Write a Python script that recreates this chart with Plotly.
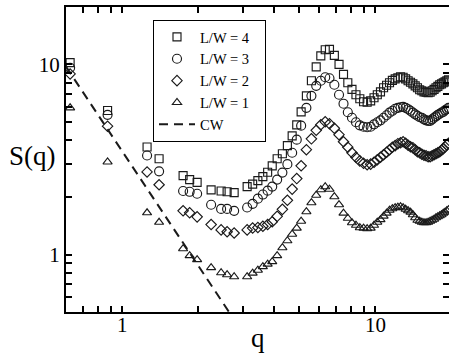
import math
import plotly.graph_objects as go

# shared wave-vector values
q_values = [0.623, 0.876, 1.255, 1.40, 1.742, 1.849, 1.979, 2.248, 2.462, 2.60, 2.772,
            3.12, 3.28, 3.44, 3.60, 3.76, 3.92, 4.10, 4.30, 4.50, 4.70, 4.90, 5.10, 5.35,
            5.60, 5.85, 6.10, 6.35, 6.60,
            6.9, 7.2, 7.5, 7.8, 8.1, 8.4, 8.7, 9.0, 9.3, 9.6, 9.9, 10.2, 10.5, 10.8, 11.1,
            11.4, 11.7, 12.0, 12.3, 12.6, 12.9, 13.2, 13.5, 13.8, 14.1, 14.4, 14.7, 15.0,
            15.3, 15.6, 15.9, 16.2, 16.5, 16.8, 17.1, 17.4, 17.7, 18.0, 18.3, 18.6, 18.9,
            19.2, 19.5]

s_lw4 = [10.2, 5.72, 3.68, 3.19, 2.60, 2.48, 2.40, 2.19, 2.16, 2.14, 2.12,
         2.28, 2.35, 2.45, 2.57, 2.71, 2.93, 3.19, 3.39, 3.74, 4.21, 4.81, 5.63, 6.83,
         8.20, 9.70, 11.08, 11.92, 11.99,
         11.15, 10.0, 8.86, 8.00, 7.39, 6.92, 6.59, 6.36, 6.32, 6.43, 6.67, 6.92, 7.17,
         7.53, 7.76, 8.00, 8.24, 8.39, 8.50, 8.60, 8.55, 8.39, 8.20, 8.05, 7.90, 7.71,
         7.53, 7.35, 7.26, 7.17, 7.13, 7.09, 7.13, 7.26, 7.39, 7.53, 7.66, 7.81, 7.90,
         8.00, 8.09, 8.20, 8.29]

s_lw3 = [9.58, 5.43, 3.32, 2.74, 2.16, 2.14, 2.09, 1.83, 1.74, 1.74, 1.70,
         1.77, 1.85, 1.97, 2.07, 2.17, 2.28, 2.48, 2.70, 2.99, 3.43, 4.02, 4.76, 5.91,
         6.83, 7.71, 8.20, 8.55, 8.45,
         7.81, 6.92, 6.21, 5.60, 5.24, 4.96, 4.78, 4.70, 4.67, 4.70, 4.84, 4.96, 5.08,
         5.24, 5.40, 5.57, 5.70, 5.84, 5.91, 5.95, 5.98, 5.91, 5.81, 5.70, 5.57, 5.46,
         5.37, 5.27, 5.24, 5.14, 5.08, 5.05, 5.05, 5.14, 5.24, 5.33, 5.43, 5.50, 5.57,
         5.63, 5.74, 5.81, 5.91]

s_lw2 = [8.90, 4.73, 2.72, 2.33, 1.70, 1.66, 1.58, 1.44, 1.35, 1.32, 1.30,
         1.35, 1.38, 1.39, 1.41, 1.44, 1.49, 1.59, 1.73, 1.93, 2.21, 2.51, 2.93, 3.56,
         4.06, 4.50, 4.81, 4.99, 4.87,
         4.61, 4.27, 3.92, 3.67, 3.43, 3.25, 3.11, 3.02, 2.97, 2.99, 3.06, 3.15, 3.25,
         3.35, 3.45, 3.56, 3.67, 3.74, 3.83, 3.87, 3.92, 3.85, 3.76, 3.69, 3.65, 3.56,
         3.47, 3.43, 3.37, 3.33, 3.31, 3.27, 3.27, 3.31, 3.35, 3.39, 3.43, 3.47, 3.54,
         3.60, 3.69, 3.78, 3.85]

s_lw1 = [5.91, 3.07, 1.66, 1.48, 1.075, 0.988, 0.942, 0.855, 0.804, 0.785, 0.766,
         0.766, 0.800, 0.829, 0.865, 0.892, 0.919, 0.988, 1.088, 1.184, 1.281, 1.378,
         1.499, 1.682, 1.875, 2.053, 2.194, 2.275, 2.208,
         2.016, 1.830, 1.652, 1.554, 1.472, 1.428, 1.386, 1.378, 1.369, 1.378, 1.428,
         1.481, 1.527, 1.593, 1.652, 1.712, 1.744, 1.765, 1.776, 1.786, 1.765, 1.733,
         1.702, 1.672, 1.622, 1.564, 1.517, 1.499, 1.481, 1.472, 1.472, 1.481, 1.499,
         1.517, 1.536, 1.564, 1.583, 1.602, 1.622, 1.652, 1.672, 1.702, 1.722]

# capillary-wave reference line endpoints
q_cw = [0.6, 2.7]
s_cw = [9.72, 0.48]

series_names = ["L/W = 4", "L/W = 3", "L/W = 2", "L/W = 1"]
cw_name = "CW"
x_tickvals = [0.7, 0.8, 0.9, 1, 2, 3, 4, 5, 6, 7, 8, 9, 10]
x_labels = [1, 10]
y_tickvals = [0.6, 0.7, 0.8, 0.9, 1, 2, 3, 4, 5, 6, 7, 8, 9, 10]
y_ticktext = ["", "", "", "", "1", "", "", "", "", "", "", "", "", "10"]

FONT = "Liberation Serif, Times New Roman, serif"
INK = "#1a1a1a"

W, H = 449, 355
ML, MR, MT, MB = 66, 0, 7, 43
plot_w = W - ML - MR
plot_h = H - MT - MB


def px_x(px):
    return (px - ML) / plot_w


def px_y(py):
    return (H - MB - py) / plot_h


PAD = "&nbsp;&nbsp;&nbsp;"

fig = go.Figure()
symbols = ["square-open", "circle-open", "diamond-open", "triangle-up-open"]
sizes = [8, 9, 8, 8]
for name, s, sym, sz in zip(series_names, [s_lw4, s_lw3, s_lw2, s_lw1], symbols, sizes):
    fig.add_trace(go.Scatter(
        x=q_values, y=s, mode="markers", name=name + PAD,
        marker=dict(symbol=sym, size=sz, color=INK, line=dict(color=INK, width=1.15)),
    ))
fig.add_trace(go.Scatter(
    x=q_cw, y=s_cw, mode="lines", name=cw_name,
    line=dict(color=INK, width=2, dash="9px,6px"),
))
# invisible trace to carry the right-side tick axis
fig.add_trace(go.Scatter(x=[1], y=[1], yaxis="y2", mode="markers",
                         marker=dict(opacity=0), showlegend=False, hoverinfo="skip"))

axis_font = dict(family=FONT, size=21, color="black")
annotations = [
    dict(text="S(q)", x=px_x(32), y=px_y(156), xref="paper", yref="paper",
         xanchor="center", yanchor="middle", showarrow=False,
         font=dict(family=FONT, size=27, color="black")),
    dict(text="q", x=px_x(258), y=px_y(338), xref="paper", yref="paper",
         xanchor="center", yanchor="middle", showarrow=False,
         font=dict(family=FONT, size=27, color="black")),
]
for v in x_labels:
    annotations.append(dict(text=str(v), x=math.log10(v), y=px_y(325), xref="x", yref="paper",
                            xanchor="center", yanchor="middle", showarrow=False,
                            font=axis_font))

fig.update_layout(
    width=W, height=H,
    margin=dict(l=ML, r=MR, t=MT, b=MB),
    paper_bgcolor="white", plot_bgcolor="white",
    font=dict(family=FONT, color="black"),
    xaxis=dict(type="log", range=[-0.2218, 1.2920], showgrid=False, zeroline=False,
               showline=True, linecolor="black", linewidth=2, mirror="ticks",
               ticks="inside", ticklen=6, tickwidth=2, tickcolor="black",
               tickvals=x_tickvals, showticklabels=False),
    yaxis=dict(type="log", range=[-0.30103, 1.30103], showgrid=False, zeroline=False,
               showline=True, linecolor="black", linewidth=2,
               ticks="inside", ticklen=6, tickwidth=2, tickcolor="black",
               tickvals=y_tickvals, ticktext=y_ticktext, tickfont=axis_font),
    yaxis2=dict(type="log", range=[-0.30103, 1.30103], overlaying="y", side="right",
                showgrid=False, zeroline=False, showline=False, showticklabels=False,
                ticks="inside", ticklen=6, tickwidth=2, tickcolor="black",
                tickvals=y_tickvals),
    legend=dict(x=px_x(153), y=px_y(20), xanchor="left", yanchor="top",
                bgcolor="white", bordercolor="black", borderwidth=1,
                font=dict(family=FONT, size=14.5, color="black"),
                itemwidth=36, tracegroupgap=0),
    showlegend=True,
    annotations=annotations,
)

fig.write_html("out.html", config={"displayModeBar": False},
               post_script="document.body.style.margin='0';document.body.style.padding='0';")
